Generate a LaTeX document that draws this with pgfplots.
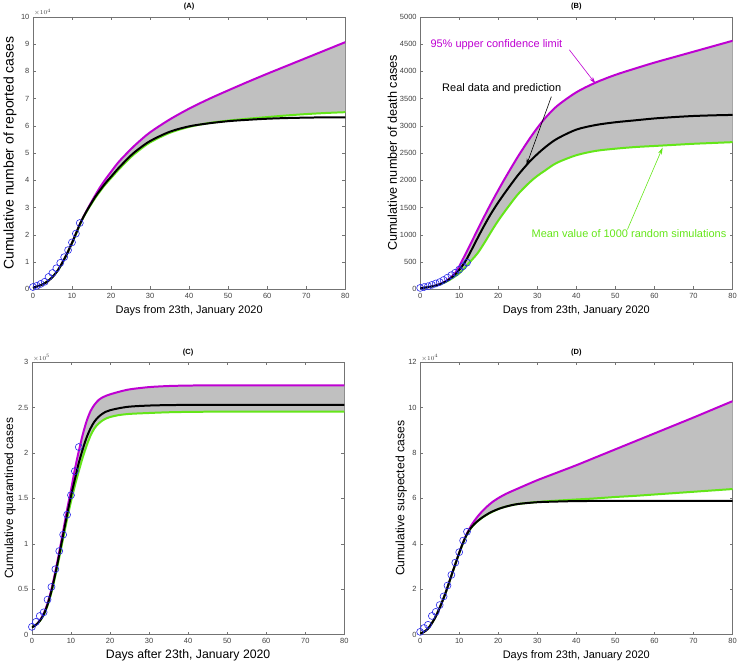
\documentclass[border=0pt]{standalone}
\usepackage{fontspec}
\setmainfont{Liberation Sans}
\usepackage{pgfplots}
\usepackage{pgfplotstable}
\pgfplotsset{compat=1.18}
\usepgfplotslibrary{fillbetween}
\usetikzlibrary{arrows.meta}
\definecolor{cpurple}{RGB}{190,0,210}
\definecolor{cgreen}{RGB}{100,230,25}
\definecolor{cfill}{RGB}{192,192,192}
\definecolor{cblue}{RGB}{40,40,235}

% Panel A: reported cases (x, upper 95%, real/prediction, mean of simulations)
\pgfplotstableread{
x up mid lo
0 600 600 600
1 1000 1000 1000
2 1500 1500 1500
3 2200 2200 2200
4 3200 3200 3200
5 4500 4500 4500
6 6200 6200 6200
7 8400 8400 8300
8 11000 11000 10900
9 13900 13900 13800
10 17000 17000 16900
11 20400 20400 20200
12 23800 23800 23600
13 26800 26700 26600
14 29500 29300 29100
15 32100 31700 31400
16 34600 34000 33600
17 37000 36000 35600
18 39200 37900 37500
19 41200 39700 39200
20 43100 41300 40800
22 46800 44600 44000
25 51300 49000 48400
27 54000 51400 50800
30 57600 54400 53900
35 62300 57800 57400
40 66300 59800 59600
45 69800 60900 61000
50 73000 61700 61900
55 76100 62200 62600
60 79100 62600 63200
65 82000 62850 63800
70 84900 63000 64300
75 87800 63100 64700
80 90700 63100 65000
}\dataA
\pgfplotstableread{
x y
0 830
1 1287
2 1975
3 2744
4 4515
5 5974
6 7711
7 9692
8 11791
9 14380
10 17205
11 20438
12 24324
}\ptsA

% Panel B: death cases
\pgfplotstableread{
x up mid lo
0 20 20 20
1 28 28 28
2 38 38 38
3 52 52 50
4 70 70 66
5 95 93 88
6 128 123 115
7 172 162 150
8 228 212 192
9 300 275 240
10 420 355 290
11 560 450 360
12 700 565 440
13 845 700 520
14 990 840 600
15 1135 980 690
16 1278 1115 800
17 1418 1245 915
18 1555 1370 1035
19 1688 1485 1150
20 1818 1595 1260
22 2070 1800 1460
25 2430 2090 1740
28 2760 2340 1960
30 2960 2480 2080
32 3140 2605 2180
35 3360 2760 2320
40 3615 2930 2460
45 3795 3015 2540
50 3935 3065 2580
55 4050 3100 2610
60 4160 3135 2630
65 4260 3160 2650
70 4360 3180 2670
75 4460 3192 2685
80 4560 3200 2700
}\dataB
\pgfplotstableread{
x y
0 25
1 41
2 56
3 80
4 106
5 132
6 170
7 213
8 259
9 304
10 361
11 425
12 490
}\ptsB

% Panel C: quarantined cases
\pgfplotstableread{
x up mid lo
0 8000 8000 8000
1 10500 10500 10500
2 15500 15000 14800
3 23000 22000 21500
4 34500 33000 32000
5 50000 48000 46500
6 69500 67000 65000
7 91000 88000 85000
8 114000 110000 106000
9 137500 132000 127000
10 159000 152500 146500
11 182000 171000 164000
12 202000 189000 180000
13 220000 204000 195000
14 235000 217000 208000
15 246000 227000 219000
16 253000 234500 227000
17 258000 239500 232000
18 261000 243000 235500
19 263000 245500 238000
20 264500 247000 239500
22 267000 249000 241500
25 270000 251000 243000
30 272500 252200 244000
35 273700 252700 244800
40 274200 252900 245200
45 274400 253000 245400
50 274500 253000 245500
55 274500 253000 245500
60 274500 253000 245500
65 274500 253000 245500
70 274500 253000 245500
75 274500 253000 245500
80 274500 253000 245500
}\dataC
\pgfplotstableread{
x y
0 8500
1 14000
2 20500
3 24500
4 38500
5 52500
6 72000
7 92000
8 110000
9 132000
10 153500
11 180000
12 206500
}\ptsC

% Panel D: suspected cases
\pgfplotstableread{
x up mid lo
0 500 500 500
1 1200 1200 1200
2 2600 2600 2600
3 5000 5000 5000
4 8000 8000 8000
5 11800 11800 11800
6 16000 16000 16000
7 20800 20800 20700
8 26000 26000 25900
9 31000 31000 30900
10 36000 36000 35800
11 40600 40500 40300
12 44600 44300 44100
13 47800 47000 46900
14 50400 48900 48800
15 52600 50400 50300
16 54500 51700 51600
17 56200 52800 52700
18 57700 53800 53700
19 59000 54600 54500
20 60100 55300 55300
22 62000 56400 56400
25 64300 57500 57500
30 68000 58300 58400
35 71300 58600 59000
40 74600 58800 59500
45 78100 58850 60000
50 81600 58900 60600
55 85100 58900 61100
60 88600 58900 61700
65 92100 58900 62300
70 95600 58900 62900
75 99200 58900 63500
80 102800 58900 64100
}\dataD
\pgfplotstableread{
x y
0 1200
1 2900
2 4300
3 8200
4 10000
5 13000
6 16800
7 21600
8 26300
9 31700
10 36300
11 41400
12 45300
}\ptsD

\pgfplotsset{
  panel/.style={
    scale only axis, width=313pt, height=273pt, clip mode=individual,
    xmin=0, xmax=80, xtick={0,10,20,30,40,50,60,70,80},
    xticklabels={0,10,20,30,40,50,60,70,80},
    ymin=0, scaled ticks=false,
    axis line style={black!55}, tick style={black!55, line width=0.5pt},
    major tick length=3pt,
    tick label style={font=\fontsize{7.5}{8}\selectfont, text=black!75},
    title style={font=\bfseries\fontsize{7.5}{8}\selectfont, yshift=-3pt},
    xlabel style={font=\fontsize{11}{13}\selectfont, at={(axis description cs:0.5,-0.077)}, anchor=center},
  },
  up/.style={cpurple, line width=2pt, smooth},
  lo/.style={cgreen, line width=2pt, smooth},
  mid/.style={black, line width=2pt, smooth},
  pts/.style={only marks, mark=o, mark size=3.5pt, cblue, mark options={line width=0.6pt}},
}
\tikzset{scalelab/.style={anchor=south west, inner sep=1pt, font=\fontsize{6.5}{7}\selectfont, text=black!75}}

\begin{document}
\begin{tikzpicture}

% (A)
\begin{axis}[panel, at={(33pt,377pt)}, anchor=south west,
  title={(A)}, ymax=100000,
  ytick={0,10000,20000,30000,40000,50000,60000,70000,80000,90000,100000},
  yticklabels={0,1,2,3,4,5,6,7,8,9,10},
  xlabel={Days from 23th, January 2020},
  ylabel={Cumulative number of reported cases},
  ylabel style={font=\fontsize{14}{16}\selectfont, at={(axis description cs:-0.073,0.5)}, anchor=center}]
\addplot[draw=none, name path=upA, smooth] table[x=x,y=up]{\dataA};
\addplot[draw=none, name path=loA, smooth] table[x=x,y=lo]{\dataA};
\addplot[cfill] fill between[of=upA and loA];
\addplot[up] table[x=x,y=up]{\dataA};
\addplot[lo] table[x=x,y=lo]{\dataA};
\addplot[mid] table[x=x,y=mid]{\dataA};
\addplot[pts] table[x=x,y=y]{\ptsA};
\node[scalelab] at (rel axis cs:0,1) {$\times 10^{4}$};
\end{axis}

% (B)
\begin{axis}[panel, at={(421pt,377pt)}, anchor=south west,
  title={(B)}, ymax=5000,
  ytick={0,500,1000,1500,2000,2500,3000,3500,4000,4500,5000},
  yticklabels={0,500,1000,1500,2000,2500,3000,3500,4000,4500,5000},
  xlabel={Days from 23th, January 2020},
  ylabel={Cumulative number of death cases},
  ylabel style={font=\fontsize{12.7}{15}\selectfont, at={(axis description cs:-0.089,0.5)}, anchor=center}]
\addplot[draw=none, name path=upB, smooth] table[x=x,y=up]{\dataB};
\addplot[draw=none, name path=loB, smooth] table[x=x,y=lo]{\dataB};
\addplot[cfill] fill between[of=upB and loB];
\addplot[up] table[x=x,y=up]{\dataB};
\addplot[lo] table[x=x,y=lo]{\dataB};
\addplot[mid] table[x=x,y=mid]{\dataB};
\addplot[pts] table[x=x,y=y]{\ptsB};
\node[anchor=west, inner sep=0pt, text=cpurple, font=\fontsize{11}{13}\selectfont] at (axis cs:2.6,4487) {95\% upper confidence limit};
\draw[cpurple, line width=0.6pt, -{Stealth[length=7pt,width=4pt]}] (axis cs:38.2,4396) -- (axis cs:44.9,3773);
\node[anchor=west, inner sep=0pt, text=black, font=\fontsize{11}{13}\selectfont] at (axis cs:5.6,3681) {Real data and prediction};
\draw[black, line width=0.6pt, -{Stealth[length=7pt,width=4pt]}] (axis cs:33.6,3535) -- (axis cs:27.2,2271);
\node[anchor=west, inner sep=0pt, text=cgreen, font=\fontsize{11}{13}\selectfont] at (axis cs:28.5,1026) {Mean value of 1000 random simulations};
\draw[cgreen, line width=0.6pt, -{Stealth[length=7pt,width=4pt]}] (axis cs:53.1,1099) -- (axis cs:62.1,2601);
\end{axis}

% (C)
\begin{axis}[panel, at={(32pt,31pt)}, anchor=south west,
  title={(C)}, ymax=300000,
  ytick={0,50000,100000,150000,200000,250000,300000},
  yticklabels={0,0.5,1,1.5,2,2.5,3},
  xlabel={Days after 23th, January 2020},
  xlabel style={font=\fontsize{12.3}{14}\selectfont},
  ylabel={Cumulative quarantined cases},
  ylabel style={font=\fontsize{12}{14}\selectfont, at={(axis description cs:-0.070,0.5)}, anchor=center}]
\addplot[draw=none, name path=upC, smooth] table[x=x,y=up]{\dataC};
\addplot[draw=none, name path=loC, smooth] table[x=x,y=lo]{\dataC};
\addplot[cfill] fill between[of=upC and loC];
\addplot[up] table[x=x,y=up]{\dataC};
\addplot[lo] table[x=x,y=lo]{\dataC};
\addplot[mid] table[x=x,y=mid]{\dataC};
\addplot[pts] table[x=x,y=y]{\ptsC};
\node[scalelab] at (rel axis cs:0,1) {$\times 10^{5}$};
\end{axis}

% (D)
\begin{axis}[panel, at={(421pt,31pt)}, anchor=south west,
  title={(D)}, ymax=120000,
  ytick={0,20000,40000,60000,80000,100000,120000},
  yticklabels={0,2,4,6,8,10,12},
  xlabel={Days from 23th, January 2020},
  ylabel={Cumulative suspected cases},
  ylabel style={font=\fontsize{12.2}{14}\selectfont, at={(axis description cs:-0.061,0.5)}, anchor=center}]
\addplot[draw=none, name path=upD, smooth] table[x=x,y=up]{\dataD};
\addplot[draw=none, name path=loD, smooth] table[x=x,y=lo]{\dataD};
\addplot[cfill] fill between[of=upD and loD];
\addplot[up] table[x=x,y=up]{\dataD};
\addplot[lo] table[x=x,y=lo]{\dataD};
\addplot[mid] table[x=x,y=mid]{\dataD};
\addplot[pts] table[x=x,y=y]{\ptsD};
\node[scalelab] at (rel axis cs:0,1) {$\times 10^{4}$};
\end{axis}
\path (0,0) rectangle (740pt,664pt);
\end{tikzpicture}
\end{document}
